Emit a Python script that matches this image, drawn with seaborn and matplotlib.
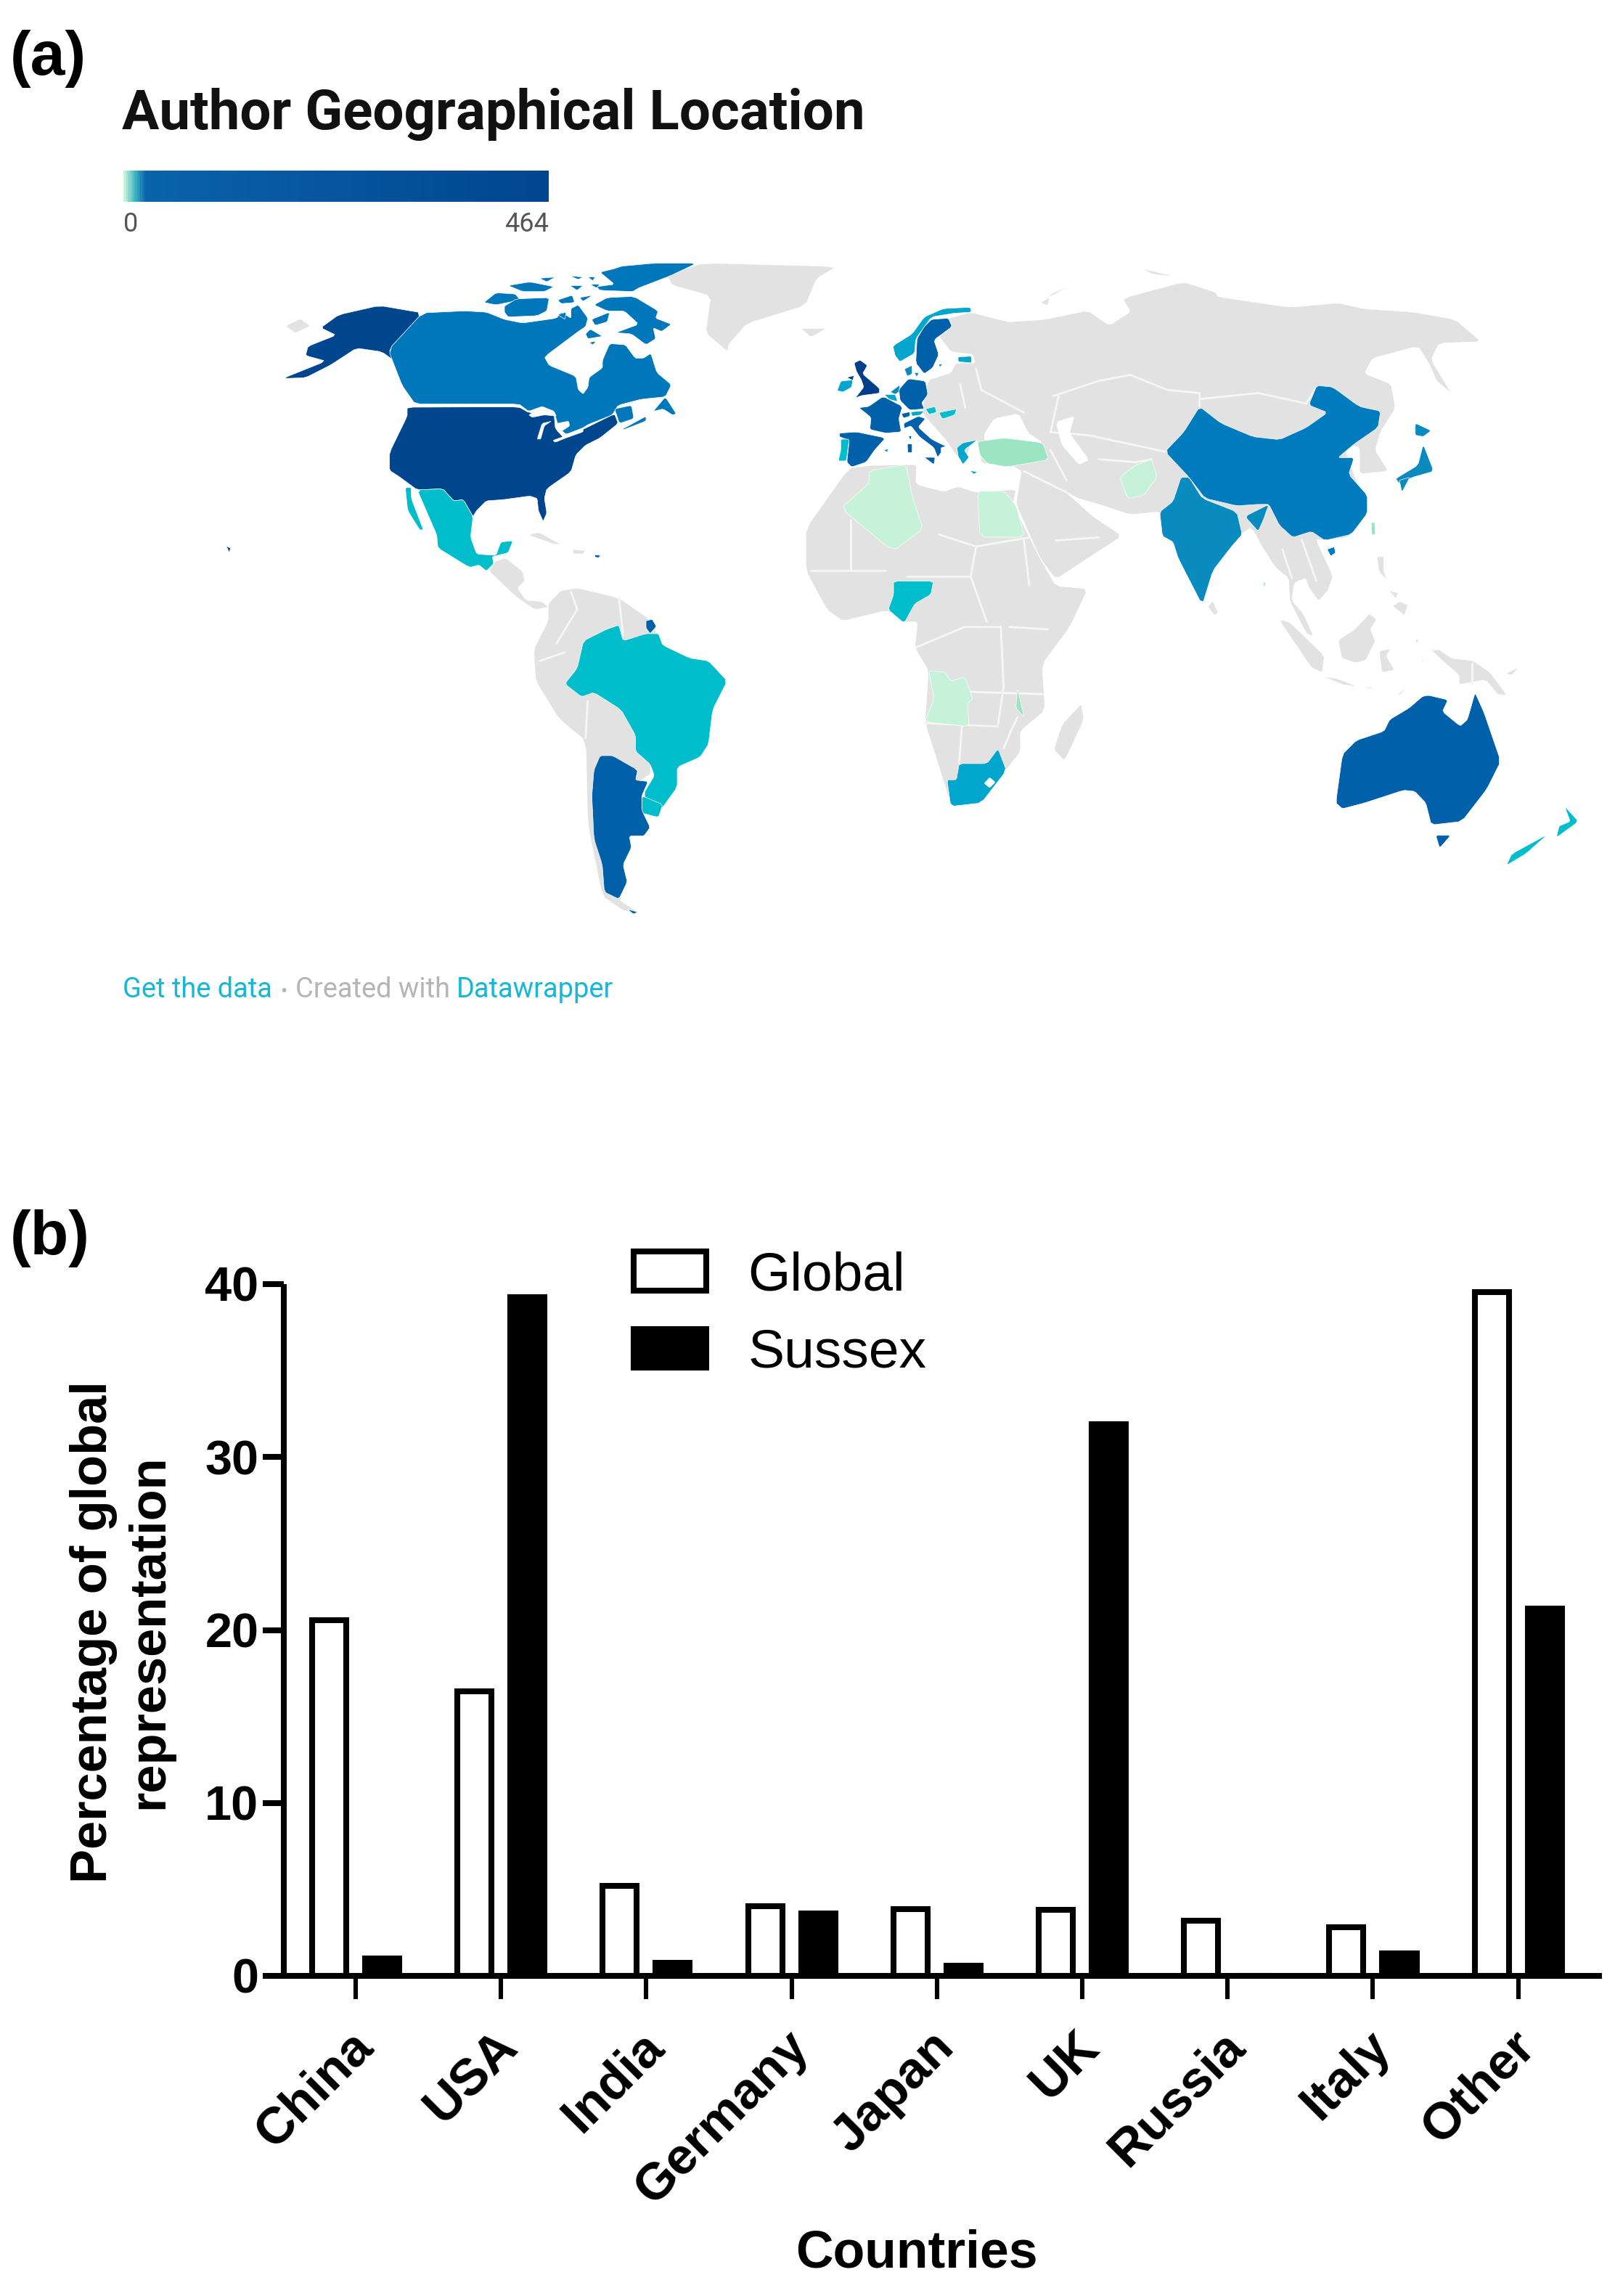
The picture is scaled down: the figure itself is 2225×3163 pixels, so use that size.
import numpy as np
import pandas as pd
import matplotlib
matplotlib.use("Agg")
import matplotlib.pyplot as plt
from matplotlib.colors import LinearSegmentedColormap
from matplotlib.transforms import ScaledTranslation
import seaborn as sns

# ---------- bar chart data ----------
COUNTRIES = ["China", "USA", "India", "Germany", "Japan", "UK", "Russia", "Italy", "Other"]
GLOBAL = [20.55, 16.45, 5.2, 4.05, 3.85, 3.8, 3.2, 2.8, 39.55]
SUSSEX = [1.0, 39.25, 0.75, 3.6, 0.6, 31.9, 0.0, 1.3, 21.25]
SERIES = ["Global", "Sussex"]
Y_TICKS = [0, 10, 20, 30, 40]

# ---------- colour scale ----------
SCALE_LABELS = ["0", "464"]
SCALE_STOPS = [0.0, 0.025, 0.05, 1.0]
SCALE_COLORS = ["#c5f2d8", "#3fb5c0", "#0a63ab", "#00458f"]

GREY = "#e2e2e2"
C_PALE = "#c5f2d8"
C_MINT = "#9be5c3"
C_TEAL = "#00bdcc"
C_LBLUE = "#02a6cc"
C_MID = "#0a8bc0"
C_CHINA = "#007cbe"
C_CAN = "#0077ba"
C_BLUE = "#0060a9"
C_DARK = "#00468f"
C_UK = "#003f88"
C_SKY = "#a6e0f2"

# ---------- outlines (crop coordinates) ----------
CROPS = {
    "z1": (0, 0, 1100 / 1568, 800 / 1568),
    "z2": (1000, 330, 1150 / 1568, 650 / 1568),
    "z3": (250, 780, 900 / 1568, 620 / 1568),
    "z4": (1000, 800, 1200 / 1568, 500 / 1568),
    "z7": (1130, 400, 1 / 3, 1 / 3),
    "z8": (550, 640, 1 / 3, 1 / 3),
    "c": (640, 350, 1 / 3, 1 / 3),
    "e": (1140, 480, 1 / 3, 1 / 3),
    "s": (1700, 700, 1 / 3, 1 / 3),
    "px": (0, 0, 1, 1),
}

GREENLAND = [(919,380),(968,362),(1154,367),(1125,384),(1110,421),(1029,446),(1004,475),(1003,485),(972,459),(979,408),(926,393)]
ICELAND = [(140,295),(190,295),(160,325)]
ST_LAWRENCE = [(560,880),(590,860),(610,880),(580,900)]
EURASIA_E = [(532,273),(600,265),(680,235),(720,285),(760,240),(745,195),(860,140),(920,175),(925,190),(1060,225),(1150,210),(1200,230),(1290,240),(1370,265),(1420,340),(1340,345),(1325,400),(1365,515),(1335,470),(1320,410),(1300,355),(1215,395),(1200,445),(1250,480),(1258,560),(1230,640),(1220,700),(1245,770),(1190,780),(1190,690),(1160,680),(1205,900),(1170,990),(1125,1000)]
EURASIA_SEA = [(340,130),(410,280),(390,340),(350,385),(310,330),(295,290),(250,310),(240,380),(290,440),(330,530),(300,520),(230,385),(225,290),(170,245),(110,150),(85,100)]
EURASIA_M = [(985,960),(960,990),(930,1000),(815,905),(760,915),(700,880),(660,860),(640,840),(690,920),(745,985),(680,1060),(620,1130),(590,1060),(545,880),(550,820),(555,770),(530,745),(480,745)]
EURASIA_W = [(650,620),(620,640),(600,720),(560,680),(520,620),(440,530),(420,500),(445,370),(540,340),(560,300),(640,300),(630,265),(540,255),(490,190),(545,150),(530,115),(620,90),(780,130)]
BLACK_SEA = [(680,590),(720,530),(820,510),(860,590),(920,630),(760,610),(680,620)]
CASPIAN = [(975,545),(1050,520),(1030,590),(1110,700),(1070,720),(1000,640)]
NOVAYA = [(590,210),(650,150),(610,180),(605,220)]
TAIMYR_IS = [(780,95),(850,125),(800,115)]
SRI_LANKA = [(915,1200),(925,1240),(918,1250),(905,1220)]
SUMATRA = [(185,460),(230,470),(375,610),(365,680),(320,660)]
BORNEO = [(430,545),(500,500),(560,435),(590,460),(565,500),(585,550),(545,630),(500,640),(445,620)]
JAVA = [(365,695),(430,705),(520,740),(450,730)]
SULAWESI = [(600,590),(650,580),(630,610),(665,670),(610,680)]
NEW_GUINEA = [(815,585),(850,585),(900,620),(990,630),(1060,680),(1130,775),(1090,770),(1040,710),(930,730),(930,690),(860,630)]
LUZON = [(590,200),(620,200),(620,260),(635,300),(600,265)]
VISAYAS = [(640,340),(680,350),(670,375)]
MINDANAO = [(685,385),(720,400),(705,445),(655,405)]
NEW_BRITAIN = [(1120,685),(1180,655),(1150,690)]
SUNDA = [(540,740),(585,740),(560,748)]
TIMOR = [(670,775),(720,735),(690,770)]
SERAM = [(760,630),(800,628),(780,635)]
HALMAHERA = [(750,540),(765,545),(755,565)]
MALDIVES = [(120,305),(132,310),(125,330)]
AFRICA = [(1169,645),(1198,641),(1250,640),(1263,640),(1262,667),(1300,677),(1320,670),(1345,678),(1400,674),(1396,695),(1433,769),(1455,807),(1499,811),(1474,864),(1436,915),(1440,979),(1406,1007),(1406,1036),(1386,1061),(1352,1106),(1310,1109),(1298,1071),(1274,995),(1279,924),(1260,892),(1264,857),(1245,857),(1222,841),(1161,856),(1139,840),(1110,786),(1110,728)]
MADAGASCAR = [(640,530),(645,600),(610,780),(590,730),(605,620)]
SOUTH_AMERICA = [(880,130),(910,85),(950,75),(1050,110),(1120,180),(1155,270),(1100,400),(1130,720),(1090,760),(1050,1160),(1100,1210),(1060,1200),(1010,1150),(975,900),(970,610),(905,530),(850,400),(845,290),(880,190)]
CENTRAL_AMERICA = [(370,440),(395,400),(440,385),(510,440),(520,480),(490,510),(525,560),(590,565),(620,590),(560,600),(480,545)]
CUBA = [(530,290),(580,280),(670,330),(640,330)]
HISPANIOLA = [(715,350),(770,355),(760,370),(720,370)]

ALASKA = [(745,825),(830,845),(763,945),(785,975),(805,1040),(790,990),(750,950),(700,940),(650,985),(600,1020),(555,1022),(640,975),(600,960),(605,935),(660,905),(630,885),(665,850)]
USA_MAIN = [(33,-237),(270,-238),(495,-238),(535,-215),(640,-210),(645,-150),(680,-110),(765,-148),(890,-210),(905,-170),(830,-110),(770,-80),(730,-40),(710,30),(610,100),(600,140),(610,200),(595,235),(575,190),(570,140),(540,130),(430,145),(360,150),(320,190),(305,215),(265,145),(225,150),(180,100),(75,105),(0,50),(-40,24),(-40,-50),(33,-200)]
CANADA = [(-174,243),(0,235),(90,240),(165,270),(240,285),(380,265),(400,240),(440,265),(440,225),(470,210),(510,265),(500,300),(470,320),(330,425),(350,460),(460,505),(470,560),(490,578),(510,550),(515,510),(570,470),(570,440),(600,370),(665,375),(705,430),(740,430),(770,410),(795,490),(855,540),(830,590),(730,600),(635,625),(610,665),(510,705),(490,718),(420,745),(390,720),(370,650),(320,630),(265,650),(225,620),(0,620),(-204,620),(-258,543),(-315,396)]
ELLESMERE = [(650,50),(780,38),(960,38),(850,90),(720,140),(695,155),(560,150),(545,135),(620,125),(560,75),(620,60)]
BAFFIN = [(535,210),(590,180),(700,175),(800,235),(790,265),(855,290),(815,320),(780,305),(790,350),(750,375),(690,330),(625,325),(720,290),(660,235),(590,235)]
BANKS = [(80,200),(130,160),(210,165),(230,190),(130,210)]
VICTORIA = [(165,215),(215,185),(350,180),(340,235),(300,255),(180,260),(165,240)]
MELVILLE = [(180,130),(270,115),(370,135),(330,155),(240,155)]
ARCTIC_1 = [(310,100),(375,95),(340,115)]
ARCTIC_2 = [(435,90),(490,95),(470,105)]
ARCTIC_3 = [(435,130),(490,130),(465,150)]
ARCTIC_4 = [(385,190),(445,170),(455,200),(400,205)]
ARCTIC_5 = [(475,180),(530,170),(490,195)]
ARCTIC_6 = [(385,250),(420,240),(415,270)]
ARCTIC_7 = [(510,95),(540,95),(530,110)]
ARCTIC_8 = [(520,125),(560,125),(545,140)]
SOUTHAMPTON = [(500,330),(520,310),(570,340),(510,350)]
FOXE = [(525,270),(600,240),(590,280),(540,295)]
COATS = [(515,365),(545,360),(530,375)]
NEWFOUNDLAND = [(780,650),(830,590),(875,660),(860,665),(820,640)]
NOVA_SCOTIA = [(650,725),(750,670),(750,690),(660,725)]
NEW_BRUNSWICK = [(620,640),(690,625),(700,680),(640,700)]
LAKE_SUPERIOR = [(265,665),(320,630),(370,650),(380,670),(330,665),(280,675)]
LAKE_MICHIGAN = [(300,765),(320,700),(360,690),(330,710),(315,765)]
LAKE_HURON = [(380,700),(430,690),(435,710),(390,740),(375,710)]
LAKE_ERIE = [(365,770),(420,750),(490,720),(490,735),(420,760),(375,778)]
HAWAII = [(445,1475),(453,1480),(450,1492)]
MEXICO = [(75,105),(180,100),(225,150),(265,145),(305,215),(295,300),(320,370),(400,375),(420,320),(470,315),(450,365),(385,380),(390,410),(360,440),(330,415),(290,425),(160,345),(155,290),(120,210)]
BAJA = [(25,95),(50,95),(50,140),(100,270),(85,270),(35,190)]
PUERTO_RICO = [(808,373),(832,375),(825,385),(810,383)]
BRAZIL = [(1050,205),(1060,260),(1115,235),(1145,235),(1155,275),(1220,320),(1265,330),(1310,400),(1275,500),(1265,620),(1245,665),(1190,700),(1190,770),(1140,870),(1125,870),(1110,790),(1135,730),(1125,690),(1090,645),(1090,590),(1055,500),(990,440),(960,455),(920,410),(950,355),(965,260),(1020,220)]
URUGUAY = [(1105,800),(1155,830),(1145,875),(1105,860)]
FR_GUIANA = [(1115,190),(1130,185),(1140,210),(1125,235),(1115,215)]
ARGENTINA = [(1005,660),(1035,660),(1095,710),(1090,745),(1120,750),(1105,800),(1105,850),(1125,910),(1110,940),(1075,940),(1080,980),(1060,1040),(1070,1100),(1050,1160),(1015,1135),(1010,1040),(990,950),(985,800),(990,710)]
FUEGO = [(1070,1195),(1095,1205),(1085,1212)]
CHINA = [(890,555),(930,610),(990,655),(1040,665),(1090,625),(1130,575),(1095,550),(1110,485),(1140,490),(1190,555),(1230,570),(1225,625),(1180,680),(1150,725),(1180,725),(1170,780),(1205,850),(1205,910),(1175,980),(1125,1000),(1100,970),(1065,990),(1040,950),(1020,880),(1000,880),(960,885),(900,860),(870,790),(825,705),(860,640)]
HAINAN = [(385,170),(415,160),(420,185),(400,198)]
TAIWAN = [(567,60),(582,58),(585,110),(570,110)]
INDIA = [(855,790),(870,790),(895,860),(960,905),(970,980),(950,1020),(915,1100),(895,1215),(850,1060),(840,1005),(820,985),(815,905),(840,870)]
INDIA_NE = [(975,920),(1020,880),(1010,930),(1000,970)]
PAKISTAN = [(800,730),(810,790),(785,850),(755,860),(740,790),(770,750)]
HOKKAIDO = [(1295,610),(1325,635),(1310,655),(1295,650)]
HONSHU = [(1310,680),(1330,770),(1290,790),(1265,810),(1258,795),(1300,750)]
KYUSHU = [(1265,800),(1285,790),(1270,840)]
TURKEY = [(650,625),(760,610),(920,630),(945,700),(770,730),(690,715),(660,680)]
ALGERIA = [(205,745),(355,720),(380,850),(425,985),(300,1078),(85,900),(200,800)]
EGYPT = [(650,830),(760,830),(810,890),(845,1020),(660,1020)]
UK = [(110,60),(135,48),(165,70),(145,105),(215,165),(215,185),(140,195),(115,205),(150,160),(140,130),(120,95)]
N_IRELAND = [(80,120),(110,112),(105,132)]
IRELAND = [(40,175),(55,135),(105,130),(100,160),(65,180)]
FRANCE = [(130,245),(170,240),(230,198),(310,240),(295,290),(305,345),(240,350),(175,335),(180,285)]
SPAIN = [(50,350),(120,345),(240,370),(195,420),(160,470),(100,490),(80,470),(90,380),(50,365)]
BALEARIC = [(233,420),(250,415),(248,430)]
PORTUGAL = [(55,375),(90,375),(78,465),(45,465),(55,420)]
GERMANY = [(335,125),(405,135),(415,190),(390,225),(400,250),(340,255),(300,215),(295,170)]
DENMARK = [(318,85),(350,70),(350,105),(330,115)]
ZEALAND = [(358,100),(378,100),(370,118)]
NETHERLANDS = [(260,180),(300,150),(295,180),(280,190)]
BELGIUM = [(235,190),(280,190),(290,220),(255,210)]
NORWAY = [(300,230),(380,180),(430,110),(510,75),(620,70),(625,90),(550,95),(460,110),(395,200),(390,260),(330,295),(310,270)]
SWEDEN = [(460,120),(530,115),(545,150),(470,205),(490,265),(465,320),(430,345),(395,300),(400,200),(430,150)]
GOTLAND = [(490,305),(505,305),(495,318)]
ESTONIA = [(540,35),(595,32),(595,60),(540,55)]
SWITZERLAND = [(305,270),(340,262),(340,280),(315,288)]
AUSTRIA = [(345,262),(400,258),(385,275),(350,280)]
CZECHIA = [(405,250),(445,240),(450,265),(420,272)]
ROMANIA = [(460,265),(535,250),(525,275),(475,292)]
ITALY = [(315,310),(375,280),(405,290),(375,325),(430,375),(490,405),(470,410),(470,430),(455,450),(440,410),(380,365),(345,320),(318,330)]
SICILY = [(400,450),(445,450),(440,480)]
SARDINIA = [(330,395),(350,395),(350,430),(332,430)]
CORSICA = [(335,362),(348,362),(343,380)]
GREECE = [(535,410),(560,390),(620,378),(565,420),(585,450),(560,480),(540,445)]
CRETE = [(590,505),(620,510),(605,520)]
NIGERIA = [(315,1135),(390,1135),(385,1180),(355,1210),(335,1275),(305,1230),(315,1180)]
ANGOLA = [(365,390),(395,395),(405,435),(430,415),(445,510),(435,530),(438,630),(358,610),(375,510)]
MALAWI = [(525,465),(537,590),(522,550)]
SOUTH_AFRICA = [(490,725),(505,820),(460,960),(405,975),(398,860),(415,860),(420,790),(470,790)]
LESOTHO = [(475,850),(485,870),(475,895),(465,875)]
AUSTRALIA = [(1254,500),(1265,495),(1300,515),(1290,565),(1322,628),(1335,600),(1348,490),(1350,490),(1365,570),(1395,780),(1370,900),(1325,1040),(1270,1055),(1260,960),(1240,910),(1220,905),(1150,960),(1110,985),(1098,960),(1110,750),(1135,690),(1185,650),(1195,600),(1230,550)]
TASMANIA = [(1278,1100),(1305,1100),(1285,1155)]
NZ_NORTH = [(1510,975),(1535,1040),(1495,1110),(1500,1060),(1520,1040)]
NZ_SOUTH = [(1480,1095),(1440,1180),(1405,1230),(1415,1180)]

GREY_SHAPES = [
    ("px", GREENLAND), ("z2", ICELAND), ("z1", ST_LAWRENCE), ("z2", NOVAYA), ("z2", TAIMYR_IS),
    ("z2", SRI_LANKA), ("s", SUMATRA), ("s", BORNEO), ("s", JAVA), ("s", SULAWESI),
    ("s", NEW_GUINEA), ("s", LUZON), ("s", VISAYAS), ("s", MINDANAO), ("s", NEW_BRITAIN),
    ("s", SUNDA), ("s", TIMOR), ("s", SERAM), ("s", HALMAHERA),
    ("px", AFRICA), ("z4", MADAGASCAR),
    ("z3", SOUTH_AMERICA), ("z8", CENTRAL_AMERICA), ("z8", CUBA), ("z8", HISPANIOLA),
]
SEA_SHAPES = [("z7", BLACK_SEA), ("z7", CASPIAN)]
COLOUR_SHAPES = [
    ("z1", ALASKA, C_DARK), ("z8", USA_MAIN, C_DARK), ("c", CANADA, C_CAN), ("c", ELLESMERE, C_CAN),
    ("c", BAFFIN, C_CAN), ("c", BANKS, C_CAN), ("c", MELVILLE, C_CAN), ("c", VICTORIA, C_CAN),
    ("c", ARCTIC_1, C_CAN), ("c", ARCTIC_2, C_CAN), ("c", ARCTIC_3, C_CAN), ("c", ARCTIC_4, C_CAN),
    ("c", ARCTIC_5, C_CAN), ("c", ARCTIC_6, C_CAN), ("c", ARCTIC_7, C_CAN), ("c", ARCTIC_8, C_CAN),
    ("c", SOUTHAMPTON, C_CAN), ("c", FOXE, C_CAN), ("c", COATS, C_CAN),
    ("c", NEWFOUNDLAND, C_CAN), ("c", NOVA_SCOTIA, C_CAN), ("c", NEW_BRUNSWICK, C_CAN), ("z1", HAWAII, C_DARK),
    ("z8", MEXICO, C_TEAL), ("z8", BAJA, C_TEAL), ("z8", PUERTO_RICO, C_BLUE),
    ("z3", BRAZIL, C_TEAL), ("z3", URUGUAY, C_TEAL), ("z3", FR_GUIANA, C_BLUE),
    ("z3", ARGENTINA, C_BLUE), ("z3", FUEGO, C_BLUE),
    ("z2", CHINA, C_CHINA), ("s", HAINAN, C_CHINA), ("s", TAIWAN, C_MINT), ("s", MALDIVES, C_SKY),
    ("z2", INDIA, C_MID), ("z2", INDIA_NE, C_MID), ("z2", PAKISTAN, C_PALE),
    ("z2", HOKKAIDO, C_MID), ("z2", HONSHU, C_MID), ("z2", KYUSHU, C_MID),
    ("z7", TURKEY, C_MINT), ("z7", ALGERIA, C_PALE), ("z7", EGYPT, C_PALE),
    ("e", IRELAND, C_LBLUE), ("e", UK, C_UK), ("e", N_IRELAND, C_UK),
    ("e", FRANCE, C_BLUE), ("e", SPAIN, C_BLUE), ("e", BALEARIC, C_MID), ("e", PORTUGAL, C_TEAL),
    ("e", GERMANY, C_BLUE), ("e", DENMARK, C_MID), ("e", ZEALAND, C_MID),
    ("e", NETHERLANDS, C_MID), ("e", BELGIUM, C_LBLUE), ("z7", NORWAY, C_LBLUE),
    ("z7", SWEDEN, C_BLUE), ("z7", GOTLAND, C_MID), ("e", ESTONIA, C_LBLUE),
    ("e", SWITZERLAND, C_BLUE), ("e", AUSTRIA, C_LBLUE), ("e", CZECHIA, C_TEAL), ("e", ROMANIA, C_TEAL),
    ("e", ITALY, C_BLUE), ("e", SICILY, C_BLUE), ("e", SARDINIA, C_BLUE), ("e", CORSICA, C_BLUE),
    ("e", GREECE, C_LBLUE), ("e", CRETE, C_LBLUE),
    ("z2", NIGERIA, C_TEAL), ("z4", ANGOLA, C_PALE), ("z4", MALAWI, C_MINT),
    ("z4", SOUTH_AFRICA, C_LBLUE), ("z4", AUSTRALIA, C_BLUE), ("z4", TASMANIA, C_BLUE),
    ("z4", NZ_NORTH, C_TEAL), ("z4", NZ_SOUTH, C_TEAL),
]
LAKES = [("c", LAKE_SUPERIOR), ("c", LAKE_MICHIGAN), ("c", LAKE_HURON), ("c", LAKE_ERIE), ("z4", LESOTHO)]
BORDERS = [
    ("z2", [(615,520),(700,470),(760,450),(830,500),(890,510),(890,555)]),
    ("z2", [(890,530),(1000,510),(1090,545),(1110,490)]),
    ("z2", [(470,430),(480,500),(560,575)]),
    ("z2", [(625,520),(610,640),(680,650),(760,680),(825,705)]),
    ("z2", [(700,730),(770,740),(800,730)]),
    ("z2", [(610,700),(640,800)]),
    ("z2", [(560,770),(640,840)]),
    ("z2", [(620,1000),(700,990)]),
    ("z2", [(440,480),(450,560)]),
    ("s", [(200,170),(240,290)]),
    ("s", [(280,130),(340,300)]),
    ("s", [(985,640),(985,730)]),
    ("z2", [(235,930),(235,1100)]),
    ("z2", [(400,980),(470,1020),(460,1120),(490,1270)]),
    ("z2", [(470,1020),(570,990)]),
    ("z2", [(560,1000),(570,1150)]),
    ("z2", [(340,1120),(460,1120)]),
    ("z2", [(160,1100),(300,1100)]),
    ("z4", [(495,200),(500,460),(490,620)]),
    ("z4", [(340,290),(430,200),(495,200)]),
    ("z4", [(440,480),(570,490)]),
    ("z4", [(580,210),(510,200)]),
    ("z4", [(358,615),(490,630)]),
    ("z4", [(425,625),(420,790)]),
    ("z4", [(525,590),(515,640),(500,725)]),
    ("z3", [(900,270),(950,150),(935,90)]),
    ("z3", [(975,470),(970,600)]),
    ("z3", [(1060,240),(1050,110)]),
    ("z3", [(860,330),(920,300)]),
]


def round_corners(x, y):
    """One light corner cut, so hand-read outlines look less angular."""
    xn, yn = np.roll(x, -1), np.roll(y, -1)
    a = 0.1
    x = np.ravel(np.column_stack([(1 - a) * x + a * xn, a * x + (1 - a) * xn]))
    y = np.ravel(np.column_stack([(1 - a) * y + a * yn, a * y + (1 - a) * yn]))
    return x, y


def to_px(crop, pts):
    x0, y0, sx, sy = CROPS[crop]
    arr = np.asarray(pts, dtype=float)
    return x0 + arr[:, 0] * sx, y0 + arr[:, 1] * sy


def outline(crop, pts):
    x, y = to_px(crop, pts)
    return round_corners(x, y)


W, H = 2225, 3163
sns.set_theme(style="white")
plt.rcParams["font.family"] = ["Liberation Sans", "DejaVu Sans"]
fig = plt.figure(figsize=(W / 100, H / 100), dpi=100, facecolor="white")

# ---------- panel (a): map ----------
mp = fig.add_axes([0, 0, 1, 1])
mp.set_xlim(0, W)
mp.set_ylim(H, 0)
mp.axis("off")

parts = [to_px("z2", EURASIA_E), to_px("s", EURASIA_SEA), to_px("z2", EURASIA_M), to_px("z7", EURASIA_W)]
ea_x, ea_y = round_corners(np.concatenate([p[0] for p in parts]), np.concatenate([p[1] for p in parts]))
mp.fill(ea_x, ea_y, fc=GREY, ec="white", lw=0.8, zorder=1)
for crop, pts in GREY_SHAPES:
    mp.fill(*outline(crop, pts), fc=GREY, ec="white", lw=0.8, zorder=1)
for crop, pts in BORDERS:
    mp.plot(*to_px(crop, pts), color="#f6f6f6", lw=2.0, zorder=2, solid_joinstyle="round")
for crop, pts in SEA_SHAPES:
    mp.fill(*outline(crop, pts), fc="white", ec="white", lw=0.5, zorder=2)
for crop, pts, col in COLOUR_SHAPES:
    mp.fill(*outline(crop, pts), fc=col, ec="#ffffff", lw=0.5, zorder=3, joinstyle="round")
for crop, pts in LAKES:
    mp.fill(*outline(crop, pts), fc="white", ec="white", lw=0.3, zorder=4)

mp.text(168, 178, "Author Geographical Location", family="Roboto", weight="bold",
        fontsize=54.9, color="#111111", ha="left", va="baseline", zorder=5)
mp.text(170, 319, SCALE_LABELS[0], family="Roboto", fontsize=26, color="#555555", ha="left", va="baseline")
mp.text(756, 319, SCALE_LABELS[1], family="Roboto", fontsize=26, color="#555555", ha="right", va="baseline")
mp.text(169, 1374, "Get the data", family="Roboto", fontsize=27.4, color="#17b7d8", ha="left", va="baseline")
mp.text(386, 1374, "•", family="Roboto", fontsize=20, color="#b5b5b5", ha="left", va="baseline")
mp.text(407, 1374, "Created with", family="Roboto", fontsize=27.4, color="#b5b5b5", ha="left", va="baseline")
mp.text(629, 1374, "Datawrapper", family="Roboto", fontsize=27.4, color="#17b7d8", ha="left", va="baseline")
mp.text(14, 103, "(a)", weight="bold", fontsize=62, color="black", ha="left", va="baseline")
mp.text(14, 1728, "(b)", weight="bold", fontsize=62, color="black", ha="left", va="baseline")

# colour scale
cb = fig.add_axes([170 / W, 1 - 278 / H, 586 / W, 43 / H])
cmap = LinearSegmentedColormap.from_list("scale", list(zip(SCALE_STOPS, SCALE_COLORS)))
sns.heatmap(np.linspace(0, 1, 586).reshape(1, -1), cmap=cmap, vmin=0, vmax=1, cbar=False,
            xticklabels=False, yticklabels=False, ax=cb, rasterized=True)
cb.axis("off")

# ---------- panel (b): bars ----------
ax = fig.add_axes([391 / W, 1 - 2722 / H, (2207 - 391) / W, (2722 - 1769) / H])
ax.patch.set_alpha(0)
df = pd.DataFrame({
    "Country": COUNTRIES * 2,
    "Percent": GLOBAL + SUSSEX,
    "Group": [SERIES[0]] * len(COUNTRIES) + [SERIES[1]] * len(COUNTRIES),
})
LW = 5.8
sns.barplot(data=df, x="Country", y="Percent", hue="Group", palette={"Global": "white", "Sussex": "black"},
            order=COUNTRIES, hue_order=SERIES, edgecolor="black", linewidth=LW, saturation=1,
            width=0.73, gap=0.356, errorbar=None, ax=ax, zorder=2)
ax.set_xlim(-0.4945, 8.576)
ax.set_ylim(0, 40)
ax.set_xlabel("")
ax.set_ylabel("")
ax.set_yticks(Y_TICKS)
ax.tick_params(axis="y", length=21, width=LW, color="black", pad=4, left=True, labelsize=48, labelcolor="black")
ax.tick_params(axis="x", length=23, width=4.4, color="black", pad=6, bottom=True, labelsize=51, labelcolor="black")
for lab in ax.get_yticklabels():
    lab.set_fontweight("bold")
offset = ScaledTranslation(-10 / 100, -24 / 100, fig.dpi_scale_trans)
for lab in ax.get_xticklabels():
    lab.set_rotation(45)
    lab.set_ha("right")
    lab.set_va("top")
    lab.set_rotation_mode("anchor")
    lab.set_fontweight("bold")
    lab.set_transform(lab.get_transform() + offset)
for side in ["top", "right"]:
    ax.spines[side].set_visible(False)
for side in ["left", "bottom"]:
    ax.spines[side].set_linewidth(LW)
    ax.spines[side].set_color("black")
    ax.spines[side].set_capstyle("butt")
    ax.spines[side].set_zorder(4)

leg = ax.legend(loc="upper left", bbox_to_anchor=(873 / W, 1 - 1723 / H), bbox_transform=fig.transFigure,
                frameon=False, fontsize=54, borderpad=0, borderaxespad=0, handlelength=1.33, handleheight=0.72,
                handletextpad=0.77, labelspacing=0.5, title=None)
for t in leg.get_texts():
    t.set_color("black")

fig.text(168 / W, 1 - 2248 / H, "Percentage of global\nrepresentation", rotation=90, ha="center", va="center",
         ma="center", weight="bold", fontsize=50.7, color="black", linespacing=1.22)
fig.text(1263 / W, 1 - 3105 / H, "Countries", ha="center", va="center", weight="bold", fontsize=51.5, color="black")

fig.savefig("out.png", dpi=100, facecolor="white")
